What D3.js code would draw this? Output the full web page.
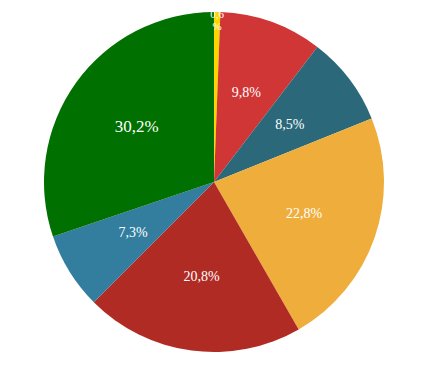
<!DOCTYPE html>
<html>
<head>
<meta charset="utf-8">
<script src="https://cdn.jsdelivr.net/npm/d3@7"></script>
<style>
  body { margin: 0; background: #fff; }
  svg { display: block; }
</style>
</head>
<body>
<svg width="427" height="374"></svg>
<script>
// slices, clockwise from 12 o'clock
var categories = ["A", "B", "C", "D", "E", "F", "G"]
var values = [0.6, 9.8, 8.5, 22.8, 20.8, 7.3, 30.2]
var colors = ["#ffd500", "#d03636", "#2b697a", "#efae3b", "#b02b24", "#337d9e", "#007000"]

var width = 427, height = 374
var cx = 214, cy = 182, radius = 170
var serif = "'Liberation Serif', 'Times New Roman', Times, serif"

var data = categories.map((c, i) => ({ name: c, value: values[i] }))
var maxVal = d3.max(values)
var fmt = v => v.toFixed(1).replace(".", ",") + "%"

var pie = d3.pie().sort(null).value(d => d.value)
var arcGen = d3.arc().innerRadius(0).outerRadius(radius)
var labelArc = d3.arc().innerRadius(radius * 0.56).outerRadius(radius * 0.56)
var edgeArc = d3.arc().innerRadius(radius * 0.95).outerRadius(radius * 0.95)

var color = d3.scaleOrdinal().domain(categories).range(colors)

var g = d3.select("svg").append("g")
    .attr("transform", `translate(${cx},${cy})`)

var arcs = pie(data)

g.selectAll("path")
    .data(arcs)
    .enter()
    .append("path")
    .attr("d", arcGen)
    .attr("fill", d => color(d.data.name))

// regular labels
g.selectAll("text.lbl")
    .data(arcs.filter(d => d.data.value >= 2))
    .enter()
    .append("text")
    .attr("class", "lbl")
    .attr("transform", d => `translate(${labelArc.centroid(d)})`)
    .attr("text-anchor", "middle")
    .attr("dy", "0.35em")
    .attr("font-family", serif)
    .attr("fill", "#fff")
    .attr("font-size", d => d.data.value === maxVal ? 17 : 14)
    .text(d => fmt(d.data.value))

// tiny slices: wrapped label near the rim
var tiny = g.selectAll("text.tiny")
    .data(arcs.filter(d => d.data.value < 2))
    .enter()
    .append("text")
    .attr("class", "tiny")
    .attr("transform", d => `translate(${edgeArc.centroid(d)})`)
    .attr("text-anchor", "middle")
    .attr("font-family", serif)
    .attr("fill", "#fff")
    .attr("font-size", 11)

tiny.append("tspan").attr("x", 0).attr("dy", "-0.2em")
    .text(d => fmt(d.data.value).replace("%", ""))
tiny.append("tspan").attr("x", 0).attr("dy", "1.1em")
    .text("%")
</script>
</body>
</html>
